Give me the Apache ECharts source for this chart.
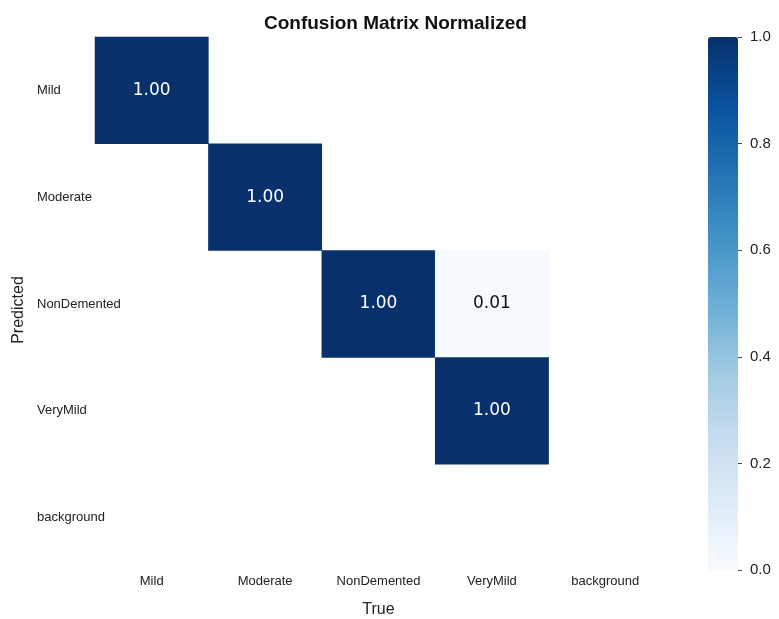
<!DOCTYPE html>
<html><head><meta charset="utf-8">
<script src="https://cdn.jsdelivr.net/npm/echarts@6/dist/echarts.min.js"></script>
<style>html,body{margin:0;padding:0;background:#fff}#c{width:779px;height:619px}</style>
</head><body><div id="c"></div>
<script>
const trueLabels = ['Mild', 'Moderate', 'NonDemented', 'VeryMild', 'background'];
const predLabels = ['Mild', 'Moderate', 'NonDemented', 'VeryMild', 'background'];
// rows = predicted, cols = true; null = empty (not drawn)
const matrix = [
  [1.00, null, null, null, null],
  [null, 1.00, null, null, null],
  [null, null, 1.00, 0.01, null],
  [null, null, null, 1.00, null],
  [null, null, null, null, null]
];
const colorbarTicks = [0.0, 0.2, 0.4, 0.6, 0.8, 1.0];
const blues = ['#f7fbff','#deebf7','#c6dbef','#9ecae1','#6baed6','#4292c6','#2171b5','#08519c','#08306b'];

const data = [];
matrix.forEach((row, r) => row.forEach((v, c) => { if (v !== null) data.push([c, r, v]); }));

const font = 'Liberation Sans, Arial, sans-serif';
const chart = echarts.init(document.getElementById('c'));
chart.setOption({
  animation: false,
  backgroundColor: '#fff',
  title: {
    text: 'Confusion Matrix Normalized', left: 259, top: 9,
    textStyle: { fontFamily: font, fontSize: 19, fontWeight: 'bold', color: '#111' }
  },
  grid: [
    { left: 95, right: 117, top: 37, bottom: 48, outerBoundsMode: 'none', containLabel: false },
    { left: 738, width: 1, top: 37, height: 533, outerBoundsMode: 'none', containLabel: false }
  ],
  xAxis: [
    {
      type: 'category', data: trueLabels, gridIndex: 0,
      axisLine: { show: false }, axisTick: { show: false }, splitLine: { show: false },
      axisLabel: { fontFamily: font, fontSize: 13, color: '#222', margin: 4 },
      name: 'True', nameLocation: 'middle', nameGap: 31,
      nameTextStyle: { fontFamily: font, fontSize: 16, color: '#222' }
    },
    { type: 'value', gridIndex: 1, show: false, min: 0, max: 1 }
  ],
  yAxis: [
    {
      type: 'category', data: predLabels, inverse: true, gridIndex: 0,
      axisLine: { show: false }, axisTick: { show: false }, splitLine: { show: false },
      axisLabel: { fontFamily: font, fontSize: 13, color: '#222', margin: 58, align: 'left' },
      name: 'Predicted', nameLocation: 'middle', nameGap: 67, nameRotate: 90,
      nameTextStyle: { fontFamily: font, fontSize: 16, color: '#222', padding: [0, 12, 0, 0] }
    },
    {
      type: 'value', gridIndex: 1, position: 'left', min: 0, max: 1, interval: 0.2,
      axisLine: { show: false, onZero: false },
      axisTick: { show: true, inside: true, length: 4, lineStyle: { color: '#444' } },
      splitLine: { show: false },
      axisLabel: {
        fontFamily: font, fontSize: 15, color: '#222', inside: true, margin: 12,
        formatter: v => colorbarTicks.some(t => Math.abs(t - v) < 1e-9) ? v.toFixed(1) : ''
      }
    }
  ],
  visualMap: {
    type: 'continuous', min: 0, max: 1, seriesIndex: 0, calculable: false,
    orient: 'vertical', left: 708, top: 37, itemWidth: 30, itemHeight: 533,
    padding: 0, text: null, showLabel: false, z: 1,
    inRange: { color: blues }
  },
  series: [
    {
      type: 'heatmap', xAxisIndex: 0, yAxisIndex: 0,
      data: data.map(d => ({ value: d, label: { color: d[2] > 0.5 ? '#fff' : '#111' } })),
      label: {
        show: true, fontFamily: 'DejaVu Sans, sans-serif', fontSize: 17,
        formatter: p => p.value[2].toFixed(2)
      },
      itemStyle: { borderWidth: 0 }
    }
  ]
});
</script></body></html>
